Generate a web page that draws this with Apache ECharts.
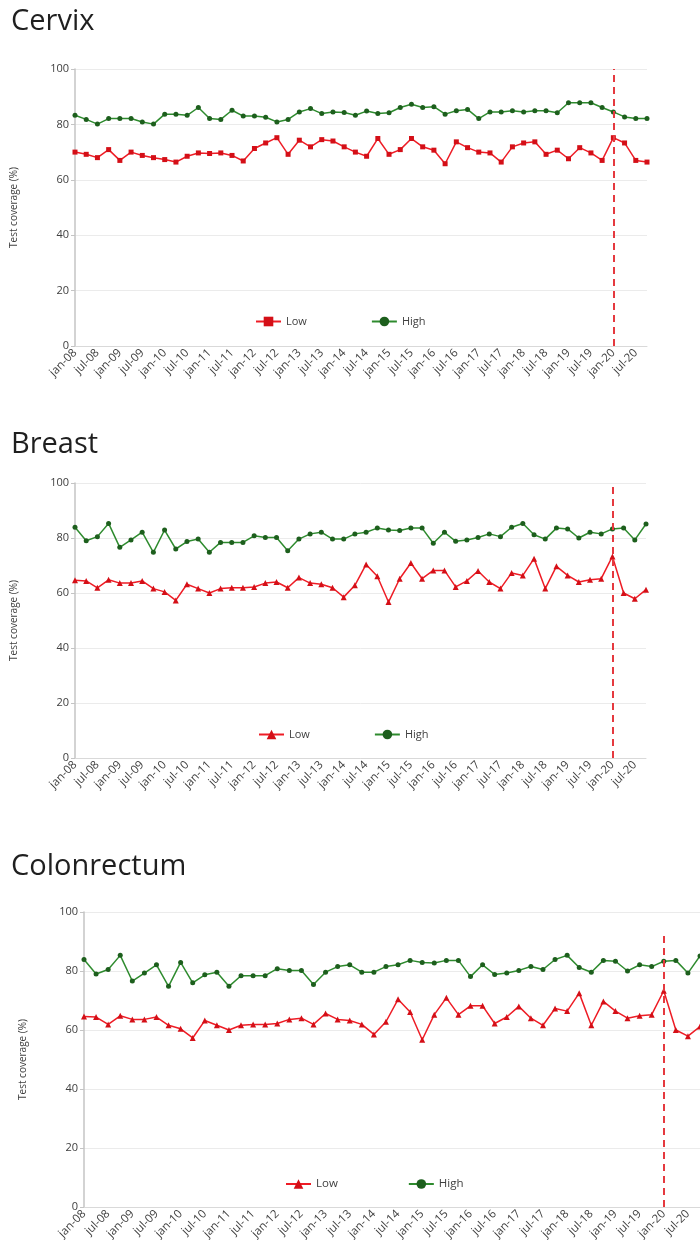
<!DOCTYPE html>
<html>
<head>
<meta charset="utf-8">
<script src="https://cdn.jsdelivr.net/npm/echarts@6/dist/echarts.min.js"></script>
<style>
html,body{margin:0;padding:0;background:#fff;}
#chart{width:700px;height:1258px;}
</style>
</head>
<body>
<div id="chart"></div>
<script>
// ---- Data ----
const categories = [
  'jan-08','apr-08','jul-08','oct-08','jan-09','apr-09','jul-09','oct-09',
  'jan-10','apr-10','jul-10','oct-10','jan-11','apr-11','jul-11','oct-11',
  'jan-12','apr-12','jul-12','oct-12','jan-13','apr-13','jul-13','oct-13',
  'jan-14','apr-14','jul-14','oct-14','jan-15','apr-15','jul-15','oct-15',
  'jan-16','apr-16','jul-16','oct-16','jan-17','apr-17','jul-17','oct-17',
  'jan-18','apr-18','jul-18','oct-18','jan-19','apr-19','jul-19','oct-19',
  'jan-20','apr-20','jul-20','oct-20'
];
const yTicks = [0, 20, 40, 60, 80, 100];
const panelTitles = ['Cervix', 'Breast', 'Colonrectum'];
const seriesNames = ['Low', 'High'];
const yAxisName = 'Test coverage (%)';
const markerCategory = 'jan-20';

const cervixLow = [70.0, 69.2, 68.0, 70.9, 67.0, 70.0, 68.8, 68.0, 67.3, 66.4, 68.5, 69.7, 69.5, 69.7, 68.8, 66.8, 71.3, 73.3, 75.2, 69.2, 74.3, 71.9, 74.5, 74.0, 71.9,
  70.0, 68.5, 74.9, 69.2, 70.9, 74.9, 71.9, 70.7, 65.8, 73.7, 71.6, 70.0, 69.7, 66.4, 71.9, 73.3, 73.7, 69.2, 70.7, 67.6, 71.6, 69.7, 67.0, 75.2, 73.3, 67.0, 66.4];
const cervixHigh = [83.3, 81.8, 80.1, 82.1, 82.1, 82.1, 80.9, 80.1, 83.7, 83.7, 83.3, 86.1, 82.1, 81.8, 85.1, 83.0, 83.0, 82.6, 80.9, 81.8, 84.5, 85.7, 83.9, 84.5, 84.3,
  83.3, 84.8, 83.9, 84.2, 86.1, 87.3, 86.1, 86.4, 83.7, 84.9, 85.4, 82.1, 84.5, 84.5, 84.9, 84.5, 84.9, 84.9, 84.2, 87.8, 87.8, 87.8, 86.1, 84.5, 82.7, 82.1, 82.1];

const breastLow = [64.6, 64.4, 61.9, 64.8, 63.6, 63.6, 64.4, 61.6, 60.4, 57.3, 63.2, 61.6, 60.0, 61.6, 61.9, 61.9, 62.2, 63.6, 64.0, 61.9, 65.6, 63.6, 63.2, 61.9, 58.5,
  62.8, 70.4, 66.1, 56.7, 65.2, 70.9, 65.2, 68.2, 68.2, 62.2, 64.4, 68.0, 64.0, 61.6, 67.3, 66.4, 72.5, 61.6, 69.7, 66.4, 64.0, 64.8, 65.2, 73.3, 60.0, 57.9, 61.2];
const breastHigh = [83.9, 79.0, 80.5, 85.3, 76.6, 79.3, 82.1, 74.8, 82.9, 76.0, 78.7, 79.6, 74.8, 78.4, 78.4, 78.4, 80.8, 80.2, 80.2, 75.4, 79.6, 81.5, 82.1, 79.6, 79.6,
  81.5, 82.1, 83.6, 82.9, 82.7, 83.6, 83.6, 78.1, 82.1, 78.8, 79.3, 80.2, 81.5, 80.5, 83.9, 85.3, 81.2, 79.6, 83.6, 83.3, 80.0, 82.1, 81.5, 83.3, 83.6, 79.3, 85.1];

const colonLow = [64.6, 64.4, 61.9, 64.8, 63.6, 63.6, 64.4, 61.6, 60.4, 57.3, 63.2, 61.6, 60.0, 61.6, 61.9, 61.9, 62.2, 63.6, 64.0, 61.9, 65.6, 63.6, 63.2, 61.9, 58.5,
  62.8, 70.4, 66.1, 56.7, 65.2, 70.9, 65.2, 68.2, 68.2, 62.2, 64.4, 68.0, 64.0, 61.6, 67.3, 66.4, 72.5, 61.6, 69.7, 66.4, 64.0, 64.8, 65.2, 73.3, 60.0, 57.9, 61.2];
const colonHigh = [83.9, 79.0, 80.5, 85.3, 76.6, 79.3, 82.1, 74.8, 82.9, 76.0, 78.7, 79.6, 74.8, 78.4, 78.4, 78.4, 80.8, 80.2, 80.2, 75.4, 79.6, 81.5, 82.1, 79.6, 79.6,
  81.5, 82.1, 83.6, 82.9, 82.7, 83.6, 83.6, 78.1, 82.1, 78.8, 79.3, 80.2, 81.5, 80.5, 83.9, 85.3, 81.2, 79.6, 83.6, 83.3, 80.0, 82.1, 81.5, 83.3, 83.6, 79.3, 85.1];

// ---- Layout / style ----
const panels = [
  {title: panelTitles[0], low: cervixLow, high: cervixHigh, lowSymbol: 'rect', lowSize: 5,
   grid: {left: 75, right: 53, top: 69, height: 277}, titleTop: 7,
   legend: {left: 255, top: 316, itemGap: 64, fontSize: 11}, markTop: 100, key: 'c'},
  {title: panelTitles[1], low: breastLow, high: breastHigh, lowSymbol: 'triangle', lowSize: 6,
   grid: {left: 75, right: 54, top: 483, height: 275}, titleTop: 430,
   legend: {left: 258, top: 729, itemGap: 64, fontSize: 11}, markTop: 100, key: 'b'},
  {title: panelTitles[2], low: colonLow, high: colonHigh, lowSymbol: 'triangle', lowSize: 6,
   grid: {left: 84, right: -5, top: 912, height: 295}, titleTop: 852,
   legend: {left: 285, top: 1178, itemGap: 70, fontSize: 11.5}, markTop: 92, key: 'r'}
];

const RED_LINE = '#ee1c25', RED_MARK = '#d40f17';
const GREEN_LINE = '#2e8b2e', GREEN_MARK = '#1d5f1d';
const FONT = '"Open Sans", "Liberation Sans", sans-serif';

const option = {
  animation: false,
  backgroundColor: '#fff',
  textStyle: {fontFamily: FONT},
  grid: [], xAxis: [], yAxis: [], series: [], legend: [], graphic: []
};

panels.forEach((p, i) => {
  option.grid.push(Object.assign({containLabel: false}, p.grid));
  option.xAxis.push({
    type: 'category', gridIndex: i, data: categories, boundaryGap: false,
    axisLine: {show: true, lineStyle: {color: '#d9d9d9', width: 1}},
    axisTick: {show: false},
    axisLabel: {interval: 1, rotate: 45, fontSize: 11.5, color: '#404040', margin: 5, fontFamily: FONT},
    splitLine: {show: false}
  });
  option.yAxis.push({
    type: 'value', gridIndex: i, min: yTicks[0], max: yTicks[yTicks.length - 1], interval: yTicks[1] - yTicks[0],
    name: yAxisName, nameLocation: 'middle', nameGap: 56,
    nameTextStyle: {fontSize: 10, color: '#404040', fontFamily: FONT},
    axisLine: {show: true, lineStyle: {color: '#c4c4c4', width: 1.5}},
    axisTick: {show: true, length: 4, lineStyle: {color: '#c4c4c4'}},
    axisLabel: {fontSize: 11, color: '#404040', margin: 6, fontFamily: FONT},
    splitLine: {show: true, lineStyle: {color: '#ebebeb', width: 1}}
  });
  const lowName = seriesNames[0] + '_' + p.key;
  const highName = seriesNames[1] + '_' + p.key;
  option.series.push({
    name: lowName, type: 'line', xAxisIndex: i, yAxisIndex: i, data: p.low,
    symbol: p.lowSymbol, symbolSize: p.lowSize, showAllSymbol: true,
    lineStyle: {color: RED_LINE, width: 1.5},
    itemStyle: {color: RED_MARK},
    markLine: {
      silent: true, symbol: 'none', label: {show: false},
      lineStyle: {color: '#e5393f', type: [7, 5], width: 2},
      data: [[{coord: [markerCategory, 0]}, {coord: [markerCategory, p.markTop]}]]
    }
  });
  option.series.push({
    name: highName, type: 'line', xAxisIndex: i, yAxisIndex: i, data: p.high,
    symbol: 'circle', symbolSize: 5, showAllSymbol: true,
    lineStyle: {color: GREEN_LINE, width: 1.5},
    itemStyle: {color: GREEN_MARK}
  });
  option.legend.push({
    data: [lowName, highName], left: p.legend.left, top: p.legend.top, padding: 0,
    itemGap: p.legend.itemGap, itemWidth: 25, itemHeight: 12,
    formatter: n => n.split('_')[0],
    textStyle: {fontSize: p.legend.fontSize, color: '#404040', fontFamily: FONT}
  });
  option.graphic.push({
    type: 'text', left: 11, top: p.titleTop,
    style: {text: p.title, font: '29px ' + FONT, fill: '#1f1f1f'}
  });
});

const chart = echarts.init(document.getElementById('chart'), null, {renderer: 'canvas'});
chart.setOption(option);
</script>
</body>
</html>
